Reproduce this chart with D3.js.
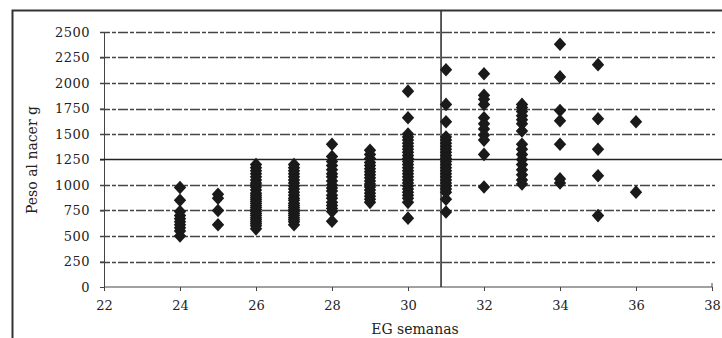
<!DOCTYPE html>
<html>
<head>
<meta charset="utf-8">
<script src="https://cdn.jsdelivr.net/npm/d3@7"></script>
<style>
  html, body { margin: 0; padding: 0; background: #fff; }
  svg { display: block; }
  text { font-family: "DejaVu Serif", "Liberation Serif", serif; fill: #222; }
</style>
</head>
<body>
<svg id="chart" width="722" height="338"></svg>
<script>
// ---- data ----
const xTicks = [22, 24, 26, 28, 30, 32, 34, 36, 38];
const yTicks = [0, 250, 500, 750, 1000, 1250, 1500, 1750, 2000, 2250, 2500];
const weeks = [24, 25, 26, 27, 28, 29, 30, 31, 32, 33, 34, 35, 36];
const w24 = [975, 850, 740, 700, 670, 640, 610, 580, 550, 500];
const w25 = [910, 870, 750, 610];
const w26 = [1200, 1170, 1140, 1110, 1080, 1050, 1020, 1000, 980, 950, 920, 900, 880, 860, 840, 820, 800, 780, 760, 740, 720, 700, 680, 660, 640, 620, 600, 570];
const w27 = [1200, 1170, 1140, 1110, 1080, 1050, 1020, 990, 960, 930, 900, 870, 850, 820, 800, 780, 760, 740, 720, 700, 680, 660, 640, 610];
const w28 = [1400, 1280, 1230, 1190, 1150, 1110, 1080, 1040, 1000, 970, 940, 900, 870, 830, 800, 770, 740, 645];
const w29 = [1340, 1300, 1260, 1220, 1190, 1160, 1130, 1100, 1070, 1040, 1010, 980, 950, 920, 890, 860, 830];
const w30 = [1920, 1660, 1500, 1470, 1440, 1410, 1380, 1350, 1320, 1290, 1260, 1230, 1200, 1170, 1140, 1110, 1080, 1050, 1020, 990, 960, 930, 900, 870, 830, 675];
const w31 = [2130, 1790, 1620, 1470, 1440, 1410, 1380, 1350, 1320, 1290, 1260, 1230, 1200, 1170, 1140, 1110, 1080, 1050, 1020, 990, 960, 930, 860, 735];
const w32 = [2090, 1880, 1840, 1790, 1660, 1600, 1550, 1490, 1440, 1300, 980];
const w33 = [1790, 1760, 1720, 1680, 1640, 1600, 1530, 1400, 1350, 1300, 1250, 1200, 1150, 1100, 1050, 1010];
const w34 = [2380, 2060, 1730, 1630, 1400, 1060, 1020];
const w35 = [2180, 1650, 1350, 1090, 700];
const w36 = [1620, 930];
const weights = [w24, w25, w26, w27, w28, w29, w30, w31, w32, w33, w34, w35, w36];
const refWeek = 30.87;   // vertical reference line
const refWeight = 1250;  // horizontal reference line
const xTitle = "EG semanas";
const yTitle = "Peso al nacer g";

// ---- drawing ----
const svg = d3.select("#chart");
const x = d3.scaleLinear().domain([22, 38]).range([104, 712]);
const y = d3.scaleLinear().domain([0, 2500]).range([287, 32]);

// outer frame (top & left edges visible)
svg.append("path")
  .attr("d", "M12.5,338 L12.5,10.5 L722,10.5")
  .attr("fill", "none").attr("stroke", "#333").attr("stroke-width", 2);

// gridlines
svg.append("g").selectAll("line").data(yTicks.filter(d => d > 0 && d !== refWeight)).join("line")
  .attr("x1", 100).attr("x2", 715)
  .attr("y1", d => Math.round(y(d)) + 0.5).attr("y2", d => Math.round(y(d)) + 0.5)
  .attr("stroke", "#444").attr("stroke-width", 1.3).attr("stroke-dasharray", "10,2,4,2");

// y axis
const yAxis = d3.axisLeft(y).tickValues(yTicks).tickSize(4).tickFormat(d3.format("d"));
const gy = svg.append("g").attr("transform", "translate(104,0)").call(yAxis);
gy.select(".domain").attr("stroke", "#444");
gy.selectAll(".tick line").attr("stroke", "#444");
gy.selectAll(".tick text").attr("x", -14).style("font-size", "13px")
  .style("font-family", '"DejaVu Serif", serif').attr("fill", "#1a1a1a").style("letter-spacing", "0.5px");

// x axis
const xAxis = d3.axisBottom(x).tickValues(xTicks).tickSize(4).tickFormat(d3.format("d"));
const gx = svg.append("g").attr("transform", "translate(0,287)").call(xAxis);
gx.select(".domain").attr("stroke", "#444").attr("d", "M104,0H712V-4");
gx.selectAll(".tick line").attr("stroke", "#444");
gx.selectAll(".tick text").attr("y", 14).style("font-size", "13px")
  .style("font-family", '"DejaVu Serif", serif').attr("fill", "#1a1a1a");

// reference lines
svg.append("line")
  .attr("x1", 100).attr("x2", 722)
  .attr("y1", y(refWeight)).attr("y2", y(refWeight))
  .attr("stroke", "#222").attr("stroke-width", 1.6);
svg.append("line")
  .attr("x1", x(refWeek)).attr("x2", x(refWeek))
  .attr("y1", 11).attr("y2", 287)
  .attr("stroke", "#333").attr("stroke-width", 1.6);

// points
const pts = [];
weeks.forEach((wk, i) => weights[i].forEach(v => pts.push({ wk, v })));
const diamond = {
  draw(ctx, size) {
    const hw = 6.2, hh = 6.8;
    ctx.moveTo(0, -hh); ctx.lineTo(hw, 0); ctx.lineTo(0, hh); ctx.lineTo(-hw, 0); ctx.closePath();
  }
};
svg.append("g").selectAll("path").data(pts).join("path")
  .attr("d", d3.symbol().type(diamond).size(64))
  .attr("transform", d => `translate(${x(d.wk)},${y(d.v)})`)
  .attr("fill", "#1a1a1a");

// titles
svg.append("text").attr("x", 415).attr("y", 334).attr("text-anchor", "middle")
  .style("font-size", "14px").text(xTitle);
svg.append("text").attr("transform", "translate(37,160) rotate(-90)").attr("text-anchor", "middle")
  .style("font-size", "14px").text(yTitle);
</script>
</body>
</html>
